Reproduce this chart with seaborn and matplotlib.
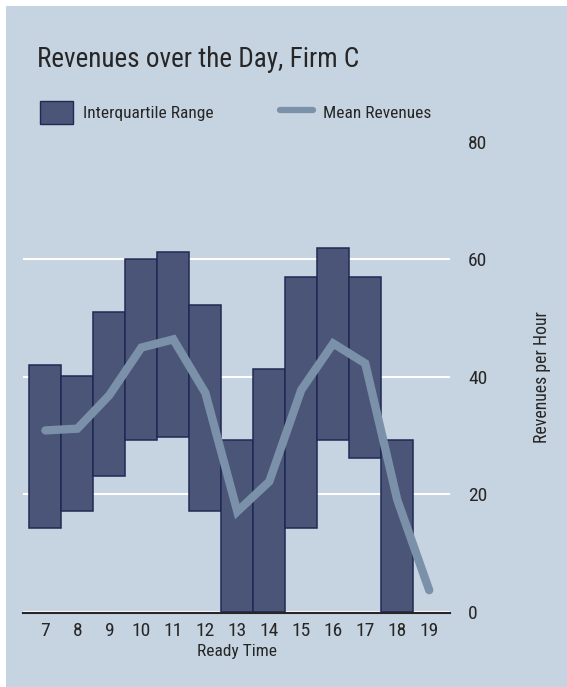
import numpy as np
import pandas as pd
import seaborn as sns
import matplotlib.pyplot as plt
from matplotlib.patches import Patch, Rectangle
from matplotlib.lines import Line2D
from matplotlib import font_manager

hours = [7, 8, 9, 10, 11, 12, 13, 14, 15, 16, 17, 18]
q1 = [14.3, 17.2, 23.2, 29.2, 29.7, 17.2, 0, 0, 14.3, 29.2, 26.2, 0]
q3 = [42.0, 40.2, 51.1, 60.1, 61.2, 52.2, 29.2, 41.3, 57.1, 62.0, 57.1, 29.2]

mean_hours = [7, 8, 9, 10, 11, 12, 13, 14, 15, 16, 17, 18, 19]
mean_rev = [30.9, 31.2, 36.9, 45.0, 46.4, 37.3, 17.1, 22.2, 37.8, 45.7, 42.3, 19.1, 3.7]

y_ticks = [0, 20, 40, 60, 80]

bg = "#c6d3e0"
bar_col = "#4a5577"
edge_col = "#1f2955"
line_col = "#7b90a9"

sns.set_style("white")
available = {f.name for f in font_manager.fontManager.ttflist}
fam = "Roboto"
for cand in ["Roboto Condensed", "Liberation Sans Narrow", "Open Sans Condensed", "Roboto"]:
    if cand in available:
        fam = cand
        break
plt.rcParams["font.family"] = [fam, "DejaVu Sans"]

df = pd.DataFrame({"hour": hours, "q1": q1, "q3": q3})
df["iqr"] = df["q3"] - df["q1"]
dm = pd.DataFrame({"hour": mean_hours, "mean": mean_rev})

fig = plt.figure(figsize=(5.67, 6.87), dpi=100, facecolor="white")
fig.patches.append(Rectangle((6 / 567, 0), 1, 1 - 6 / 687, transform=fig.transFigure,
                             facecolor=bg, edgecolor="none", zorder=-10))

ax = fig.add_axes([23 / 567, (687 - 612.5) / 687, 427 / 567, 470.5 / 687])
ax.set_facecolor("none")

for t in [0, 20, 40, 60]:
    ax.axhline(t, color="white", lw=1.5, zorder=0)

sns.barplot(data=df, x="hour", y="iqr", bottom=df["q1"].values, native_scale=True,
            width=1, color=bar_col, saturation=1, edgecolor=edge_col, linewidth=1.1,
            errorbar=None, ax=ax, zorder=2)
sns.lineplot(data=dm, x="hour", y="mean", color=line_col, lw=6, ax=ax, zorder=3,
             solid_joinstyle="miter")

ax.set_xlim(6.3, 19.65)
ax.set_ylim(-0.1, 80)
ax.set_xticks(mean_hours)
ax.set_yticks(y_ticks)
ax.yaxis.tick_right()
ax.yaxis.set_label_position("right")
ax.tick_params(axis="x", direction="inout", length=10, width=1, color="black",
               labelsize=14, pad=2)
ax.tick_params(axis="y", length=0, labelsize=14, pad=13)
for s in ["top", "left", "right"]:
    ax.spines[s].set_visible(False)
ax.spines["bottom"].set_linewidth(1.5)
ax.set_xlabel("Ready Time", fontsize=12.5, labelpad=3)
ax.set_ylabel("Revenues per Hour", fontsize=12.8, labelpad=33)

fig.text(37 / 567, 1 - 67 / 687, "Revenues over the Day, Firm C", fontsize=19.5, va="baseline")

handles = [Patch(facecolor=bar_col, edgecolor=edge_col, label="Interquartile Range"),
           Line2D([], [], color=line_col, lw=4.5, label="Mean Revenues")]
fig.legend(handles=handles, loc="upper left", bbox_to_anchor=(40 / 567, 1 - 101 / 687),
           ncol=2, frameon=False, fontsize=12.5, handlelength=1.9, handleheight=1.7,
           handletextpad=0.6, columnspacing=3.8, borderpad=0, borderaxespad=0)

fig.savefig("out.png", dpi=100, facecolor="white")
